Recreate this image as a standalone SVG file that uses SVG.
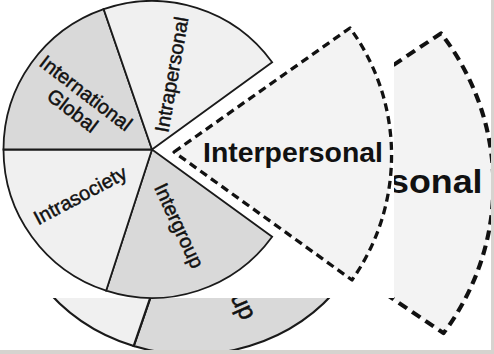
<svg xmlns="http://www.w3.org/2000/svg" xmlns:xlink="http://www.w3.org/1999/xlink" width="494" height="354" viewBox="0 0 494 354">
  <style>
    .sec { stroke: #1a1a1a; stroke-width: 1.8; stroke-linejoin: miter; }
    .dark { fill: #d9d9d9; }
    .light { fill: #f0f0f0; }
    .lbl { font-family: "Liberation Sans", Arial, sans-serif; font-size: 20px; fill: #111; stroke: #111; stroke-width: 0.45; text-anchor: middle; }
    .big { font-family: "Liberation Sans", Arial, sans-serif; font-size: 28px; font-weight: bold; fill: #111; }
    .dash { fill: #f3f3f3; stroke: #111; stroke-width: 3.3; stroke-dasharray: 8 5; stroke-linejoin: round; }
  </style>
  <defs>
    <g id="figure">
      <g id="node-intergroup">
        <path class="sec dark" d="M152,149.5 L272.14,236.79 A148.5,148.5 0 0,1 106.11,290.73 Z"/>
        <text class="lbl" transform="translate(177.5,226.5) rotate(65)" x="0" y="5">Intergroup</text>
      </g>
      <g id="node-intrasociety">
        <path class="sec light" d="M152,149.5 L106.11,290.73 A148.5,148.5 0 0,1 3.5,149.5 Z"/>
        <text class="lbl" transform="translate(81,197) rotate(-28)" x="0" y="5">Intrasociety</text>
      </g>
      <g id="node-international-global">
        <path class="sec dark" d="M152,149.5 L3.5,149.5 A148.5,148.5 0 0,1 103.65,9.09 Z"/>
        <text class="lbl" transform="translate(86,93) rotate(37.5)" x="0" y="7">International</text>
        <text class="lbl" transform="translate(86,93) rotate(37.5)" x="0" y="29">Global</text>
      </g>
      <g id="node-intrapersonal">
        <path class="sec light" d="M152,149.5 L103.65,9.09 A148.5,148.5 0 0,1 272.14,62.21 Z"/>
        <text class="lbl" transform="translate(171.5,74.5) rotate(-80)" x="0" y="7">Intrapersonal</text>
      </g>
      <g id="node-interpersonal">
        <path class="dash" d="M174,152 L350,28 A216,216 0 0,1 352,280 Z"/>
        <text class="big" x="203" y="162" textLength="180" lengthAdjust="spacingAndGlyphs">Interpersonal</text>
      </g>
    </g>
  </defs>
  <rect x="0" y="0" width="494" height="354" fill="#ffffff"/>
  <g id="background-copy">
    <use xlink:href="#figure" transform="matrix(1.26 0 0 1.19 0 0)"/>
  </g>
  <rect x="0" y="0" width="394" height="298" fill="#ffffff"/>
  <g id="foreground">
    <use xlink:href="#figure"/>
  </g>
  <g id="connectors"/>
  <rect x="491" y="0" width="3" height="354" fill="#d6d3cf"/>
  <rect x="0" y="350" width="494" height="4" fill="#d6d3cf"/>
</svg>
